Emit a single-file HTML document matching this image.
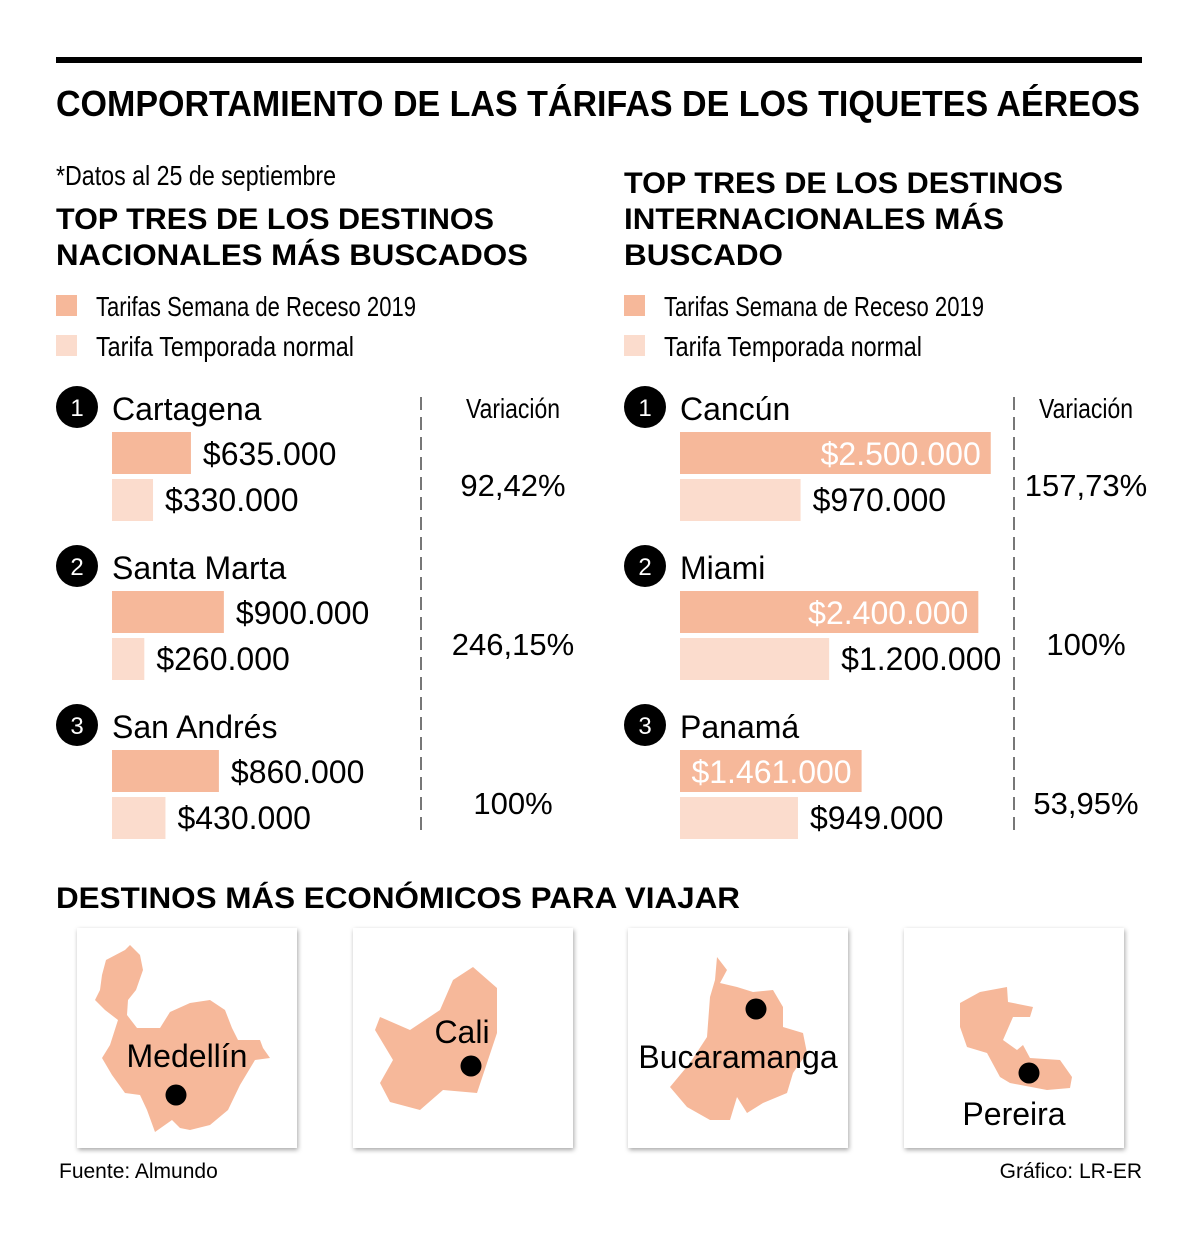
<!DOCTYPE html>
<html><head><meta charset="utf-8"><style>
html,body{margin:0;padding:0;background:#fff;}
svg{display:block;font-family:"Liberation Sans",sans-serif;}
</style></head><body>
<svg id="chart" width="1200" height="1240" viewBox="0 0 1200 1240" xmlns="http://www.w3.org/2000/svg">
<defs><filter id="sh" x="-10%" y="-10%" width="130%" height="130%"><feDropShadow dx="1" dy="2" stdDeviation="2.5" flood-color="#000" flood-opacity="0.35"/></filter></defs>
<rect x="56" y="57" width="1086" height="6" fill="#000"/>
<text x="56" y="116" font-size="36" font-weight="bold" textLength="1084" lengthAdjust="spacingAndGlyphs">COMPORTAMIENTO DE LAS TÁRIFAS DE LOS TIQUETES AÉREOS</text>
<text x="56" y="185" font-size="28" textLength="280" lengthAdjust="spacingAndGlyphs">*Datos al 25 de septiembre</text>
<g font-size="30" font-weight="bold">
<text x="56" y="229" textLength="438" lengthAdjust="spacingAndGlyphs">TOP TRES DE LOS DESTINOS</text>
<text x="56" y="265" textLength="472" lengthAdjust="spacingAndGlyphs">NACIONALES MÁS BUSCADOS</text></g>
<g font-size="30" font-weight="bold">
<text x="624" y="193" textLength="439" lengthAdjust="spacingAndGlyphs">TOP TRES DE LOS DESTINOS</text>
<text x="624" y="229" textLength="380" lengthAdjust="spacingAndGlyphs">INTERNACIONALES MÁS</text>
<text x="624" y="265" textLength="159" lengthAdjust="spacingAndGlyphs">BUSCADO</text></g>
<g>
<rect x="56" y="295" width="21" height="21" fill="#f6b89a"/><text x="96" y="316" font-size="28" textLength="320" lengthAdjust="spacingAndGlyphs">Tarifas Semana de Receso 2019</text>
<rect x="56" y="335" width="21" height="21" fill="#fbdccd"/><text x="96" y="356" font-size="28" textLength="258" lengthAdjust="spacingAndGlyphs">Tarifa Temporada normal</text></g>
<g>
<rect x="624" y="295" width="21" height="21" fill="#f6b89a"/><text x="664" y="316" font-size="28" textLength="320" lengthAdjust="spacingAndGlyphs">Tarifas Semana de Receso 2019</text>
<rect x="624" y="335" width="21" height="21" fill="#fbdccd"/><text x="664" y="356" font-size="28" textLength="258" lengthAdjust="spacingAndGlyphs">Tarifa Temporada normal</text></g>
<line x1="421" y1="397" x2="421" y2="832" stroke="#777" stroke-width="2" stroke-dasharray="13,7"/>
<line x1="1014" y1="397" x2="1014" y2="832" stroke="#777" stroke-width="2" stroke-dasharray="13,7"/>
<text x="513" y="418" font-size="28" text-anchor="middle" textLength="94" lengthAdjust="spacingAndGlyphs">Variación</text>
<text x="1086" y="418" font-size="28" text-anchor="middle" textLength="94" lengthAdjust="spacingAndGlyphs">Variación</text>
<g id="bars"></g>
<text x="56" y="908" font-size="30" font-weight="bold" textLength="684" lengthAdjust="spacingAndGlyphs">DESTINOS MÁS ECONÓMICOS PARA VIAJAR</text>
<g>
<rect x="77" y="928" width="220" height="220" fill="#fff" filter="url(#sh)"/>
<polygon fill="#f6b89a" points="130,945 140,955 143,970 136,990 128,1000 127,1015 137,1028 160,1028 170,1012 190,1003 210,1000 225,1010 232,1028 238,1040 260,1040 263,1048 270,1058 255,1060 240,1085 228,1110 210,1125 190,1130 180,1128 172,1120 155,1132 147,1110 140,1095 125,1093 112,1075 102,1058 110,1045 118,1020 105,1010 95,1000 100,990 102,975 106,960 125,950"/>
<circle cx="176" cy="1095" r="10.5" fill="#000"/>
<text x="187" y="1067" font-size="32" text-anchor="middle">Medellín</text></g>
<g>
<rect x="353" y="928" width="220" height="220" fill="#fff" filter="url(#sh)"/>
<polygon fill="#f6b89a" points="473,967 497,988 497,1033 477,1093 443,1090 420,1110 390,1102 380,1083 393,1060 375,1030 380,1017 410,1030 440,1010 453,980"/>
<circle cx="471" cy="1066" r="10.5" fill="#000"/>
<text x="462" y="1043" font-size="32" text-anchor="middle">Cali</text></g>
<g>
<rect x="628" y="928" width="220" height="220" fill="#fff" filter="url(#sh)"/>
<polygon fill="#f6b89a" points="717,957 727,970 720,983 737,987 753,992 773,990 783,1007 783,1027 803,1033 807,1053 793,1073 787,1093 763,1103 747,1113 737,1097 730,1120 710,1120 687,1107 670,1087 690,1063 707,1037 710,997 715,980"/>
<circle cx="756" cy="1009" r="10.5" fill="#000"/>
<text x="738" y="1068" font-size="32" text-anchor="middle">Bucaramanga</text></g>
<g>
<rect x="904" y="928" width="220" height="220" fill="#fff" filter="url(#sh)"/>
<polygon fill="#f6b89a" points="980,992 1007,987 1008,1002 1033,1007 1030,1017 1013,1017 1003,1040 1017,1050 1023,1045 1030,1058 1060,1060 1072,1077 1070,1088 1047,1090 1010,1083 1000,1077 987,1053 967,1047 960,1027 960,1003"/>
<circle cx="1029" cy="1073" r="10.5" fill="#000"/>
<text x="1014" y="1125" font-size="32" text-anchor="middle">Pereira</text></g>
<text x="59" y="1178" font-size="21">Fuente: Almundo</text>
<text x="1142" y="1178" font-size="21" text-anchor="end">Gráfico: LR-ER</text>
</svg>
<script>
const natNames = ["Cartagena", "Santa Marta", "San Andrés"];
const natPeak = [635000, 900000, 860000];
const natNormal = [330000, 260000, 430000];
const natVar = ["92,42%", "246,15%", "100%"];
const intNames = ["Cancún", "Miami", "Panamá"];
const intPeak = [2500000, 2400000, 1461000];
const intNormal = [970000, 1200000, 949000];
const intVar = ["157,73%", "100%", "53,95%"];

const NS = "http://www.w3.org/2000/svg";
const g = document.getElementById("bars");
function xw(v){ return v * 0.0001243; }
function fmt(v){ return "$" + v.toString().replace(/\B(?=(\d{3})+(?!\d))/g, "."); }
function mk(tag, attrs, txt){
  const e = document.createElementNS(NS, tag);
  for (const k in attrs) e.setAttribute(k, attrs[k]);
  if (txt !== undefined) e.textContent = txt;
  g.appendChild(e);
  return e;
}
function section(x0, names, peak, normal, vars, vx, prefix){
  for (let i = 0; i < names.length; i++){
    const y = 407 + i * 159;
    const c = mk("circle", {cx: x0 - 35, cy: y, r: 21, fill: "#000"});
    
    
    const n = mk("text", {x: x0 - 35, y: y + 9, "font-size": 24, fill: "#fff", "text-anchor": "middle"}, String(i + 1));
    
    
    const t = mk("text", {x: x0, y: y + 13, "font-size": 32}, names[i]);
    
    
    const w1 = xw(peak[i]);
    const b1 = mk("rect", {x: x0, y: y + 25, width: w1, height: 42, fill: "#f6b89a"});
    
    
    let l1;
    if (w1 > 150) l1 = mk("text", {x: x0 + w1 - 10, y: y + 58, "font-size": 32, fill: "#fff", "text-anchor": "end"}, fmt(peak[i]));
    else l1 = mk("text", {x: x0 + w1 + 12, y: y + 58, "font-size": 32}, fmt(peak[i]));
    
    
    const w2 = xw(normal[i]);
    const b2 = mk("rect", {x: x0, y: y + 72, width: w2, height: 42, fill: "#fbdccd"});
    
    
    const l2 = mk("text", {x: x0 + w2 + 12, y: y + 104, "font-size": 32}, fmt(normal[i]));
    
    
    const v = mk("text", {x: vx, y: y + 89, "font-size": 31, "text-anchor": "middle"}, vars[i]);
    
    
  }
}
section(112, natNames, natPeak, natNormal, natVar, 513, "national");
section(680, intNames, intPeak, intNormal, intVar, 1086, "international");
</script>
</body></html>
